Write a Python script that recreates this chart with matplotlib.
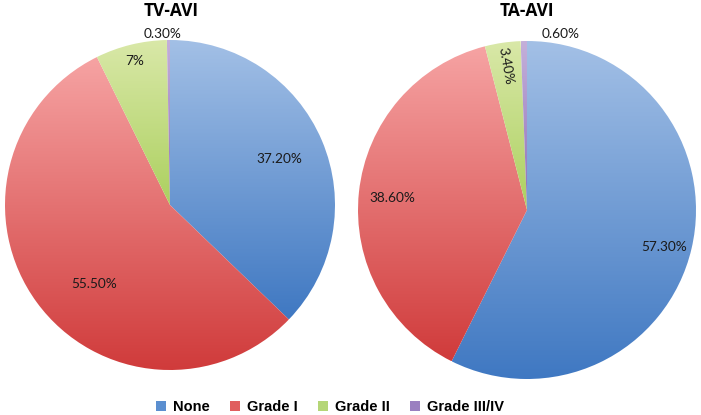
import numpy as np
import matplotlib
matplotlib.use("Agg")
import matplotlib.pyplot as plt
from matplotlib.patches import Patch
from matplotlib.colors import LinearSegmentedColormap

categories = ["None", "Grade I", "Grade II", "Grade III/IV"]
tv_values = [37.2, 55.5, 7.0, 0.3]
ta_values = [57.3, 38.6, 3.4, 0.6]
tv_labels = ["37.20%", "55.50%", "7%", "0.30%"]
ta_labels = ["57.30%", "38.60%", "3.40%", "0.60%"]
titles = ["TV-AVI", "TA-AVI"]

# gradient colours (top, bottom) per category
grad = [("#a3c0e6", "#3f78c2"), ("#f6a3a3", "#d03b3b"),
        ("#d9e8a8", "#acd05f"), ("#c4b0da", "#8e70b8")]
legend_cols = ["#5b8fd0", "#e05e5e", "#b5d677", "#9a80c0"]

# label placement styles: (radius, angle offset deg, rotation)
tv_lab_style = [(0.72, 0, 0), (0.66, 10, 0), (0.90, 0, 0), (1.04, 2, 0)]
ta_lab_style = [(0.84, -2, 0), (0.80, 1, 0), (0.86, 0, -80), (1.06, -12, 0)]

W, H = 701, 415
fig = plt.figure(figsize=(W / 100, H / 100), dpi=100)

def ax_rect(cx, cy, r):
    return [(cx - r) / W, (H - cy - r) / H, 2 * r / W, 2 * r / H]

axes = [fig.add_axes(ax_rect(170, 205, 165)), fig.add_axes(ax_rect(527, 210, 169))]
label_font = dict(family=["Lato", "DejaVu Sans"], fontsize=9.8, color="#1a1a1a")

for ax, vals, labs, style, title, tcx in zip(
        axes, [tv_values, ta_values], [tv_labels, ta_labels],
        [tv_lab_style, ta_lab_style], titles, [171, 527]):
    wedges, _ = ax.pie(vals, startangle=90, counterclock=False, radius=1.0,
                       wedgeprops=dict(linewidth=0))
    for i, w in enumerate(wedges):
        ext = w.get_path().get_extents()
        cmap = LinearSegmentedColormap.from_list("g", [grad[i][1], grad[i][0]])
        g = np.linspace(0, 1, 256).reshape(-1, 1)
        im = ax.imshow(g, cmap=cmap, origin="lower", aspect="auto",
                       extent=[ext.x0, ext.x1, ext.y0, ext.y1],
                       interpolation="bilinear", zorder=1)
        im.set_clip_path(w)
        w.set_facecolor("none")
        mid = np.deg2rad((w.theta1 + w.theta2) / 2 + style[i][1])
        r = style[i][0]
        ax.text(r * np.cos(mid), r * np.sin(mid), labs[i], ha="center", va="center",
                rotation=style[i][2], zorder=5, **label_font)
    ax.set_xlim(-1, 1)
    ax.set_ylim(-1, 1)
    ax.set_aspect("equal")
    ax.axis("off")
    fig.text(tcx / W, 1 - 11 / H, title, ha="center", va="center",
             fontsize=12.5, fontweight="bold", family=["Open Sans", "DejaVu Sans"])

handles = [Patch(facecolor=c, edgecolor="none") for c in legend_cols]
fig.legend(handles, categories, loc="center", bbox_to_anchor=(330 / W, 1 - 407 / H),
           ncol=4, frameon=False, handlelength=0.7, handleheight=0.7,
           handletextpad=0.5, columnspacing=1.35,
           prop=dict(family="Liberation Sans", weight="bold", size=10.5))

fig.savefig("out.png", dpi=100, facecolor="white")
